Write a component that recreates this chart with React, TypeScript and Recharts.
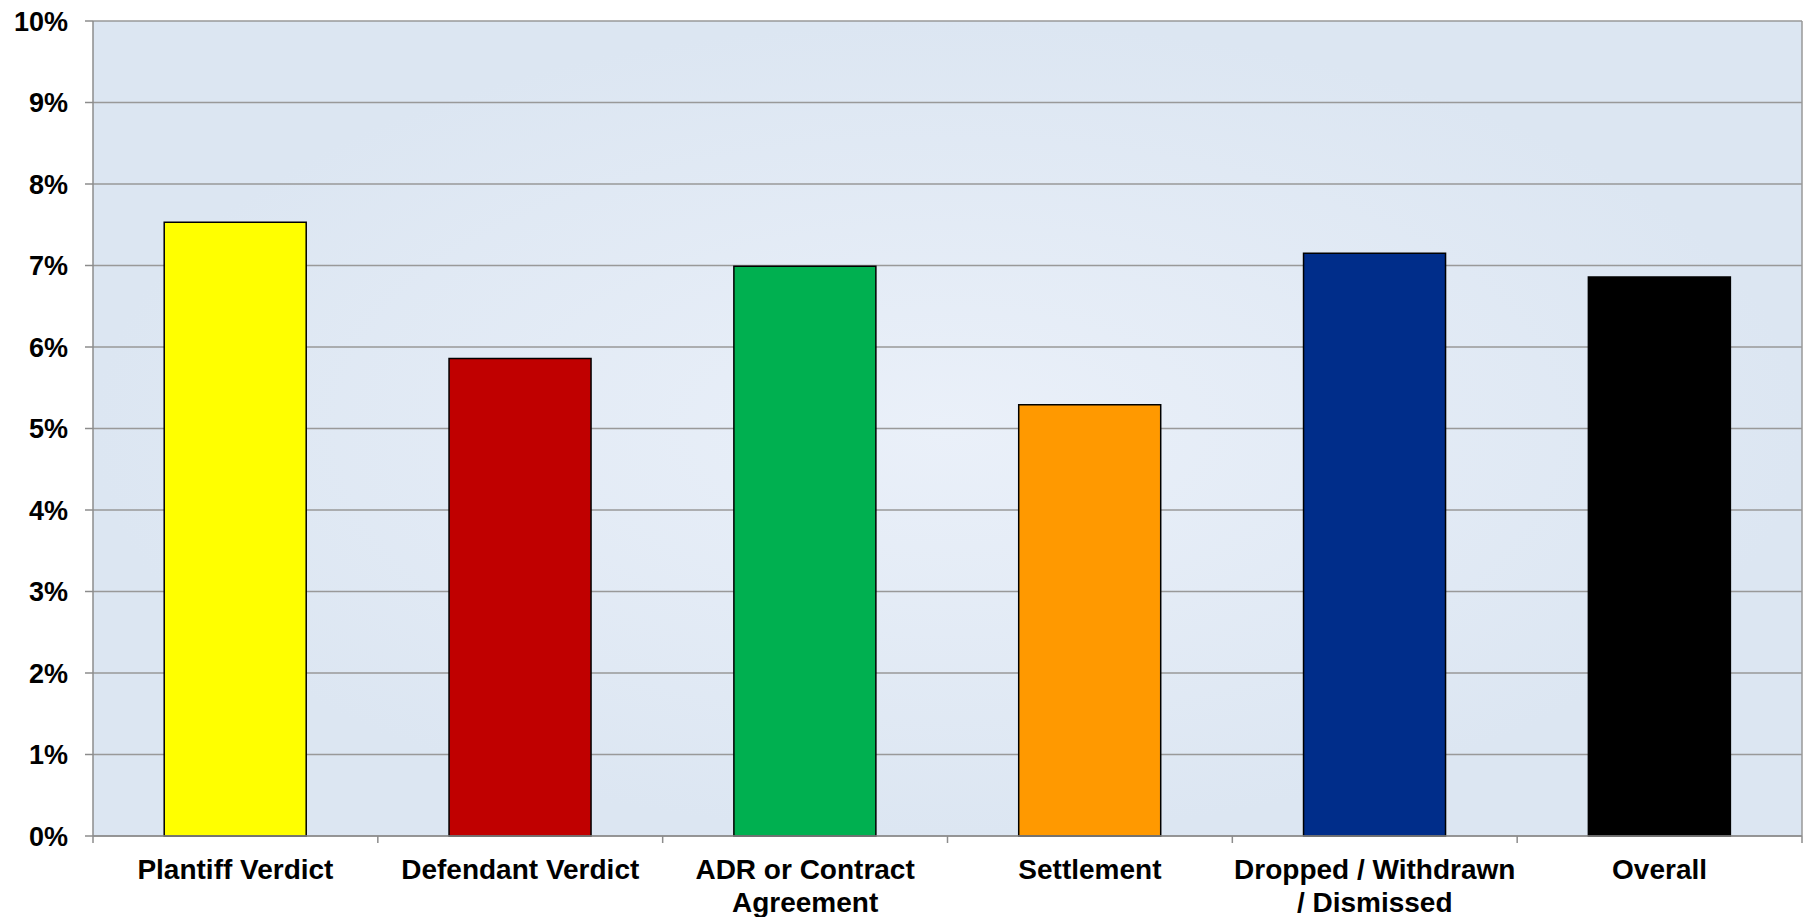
import React from 'react';
import { BarChart, Bar, XAxis, YAxis, CartesianGrid, Cell } from 'recharts';

const categories = [
  'Plantiff Verdict',
  'Defendant Verdict',
  'ADR or Contract\nAgreement',
  'Settlement',
  'Dropped / Withdrawn\n/ Dismissed',
  'Overall',
];
const rates = [7.53, 5.86, 6.99, 5.29, 7.15, 6.86];
const barColors = ['#FFFF00', '#C00000', '#00B050', '#FF9900', '#002D8A', '#000000'];
const yTicks = [0, 1, 2, 3, 4, 5, 6, 7, 8, 9, 10];

const data = categories.map((name, i) => ({ name, rate: rates[i] }));

const FONT = '"Liberation Sans", Arial, sans-serif';
const AXIS_GREY = '#8C8C8C';

// Excel puts the x tick marks between the categories, so draw them here
const CategoryTick = (props: any) => {
  const { x, y, payload, index } = props;
  const half = payload.offset || 0;
  const lines = String(payload.value).split('\n');
  return (
    <g>
      <line x1={x - half} y1={y - 7} x2={x - half} y2={y} stroke={AXIS_GREY} strokeWidth={1.5} />
      {index === categories.length - 1 && (
        <line x1={x + half} y1={y - 7} x2={x + half} y2={y} stroke={AXIS_GREY} strokeWidth={1.5} />
      )}
      <text x={x} y={y + 36} textAnchor="middle" fontFamily={FONT} fontWeight="bold" fontSize={28} fill="#000">
        {lines.map((l, i) => (
          <tspan key={i} x={x} dy={i === 0 ? 0 : 33}>
            {l}
          </tspan>
        ))}
      </text>
    </g>
  );
};

export default function App() {
  return (
    <div style={{ position: 'absolute', left: 0, top: 0, width: 1804, height: 917, background: '#fff' }}>
      <svg width={0} height={0} style={{ position: 'absolute' }}>
        <defs>
          <radialGradient id="plotBg" cx="0.5" cy="0.5" r="0.5">
            <stop offset="0%" stopColor="#EAF0F9" />
            <stop offset="100%" stopColor="#DCE6F2" />
          </radialGradient>
        </defs>
      </svg>
      <BarChart
        width={1804}
        height={917}
        data={data}
        margin={{ top: 21, right: 2, left: 0, bottom: 0 }}
        barCategoryGap="25%"
      >
        <CartesianGrid
          fill="url(#plotBg)"
          stroke="#999999"
          strokeWidth={1.5}
          verticalCoordinatesGenerator={({ offset }: any) => [offset.left + offset.width]}
        />
        <XAxis
          dataKey="name"
          height={81}
          interval={0}
          tickSize={7}
          tickMargin={0}
          tickLine={false}
          axisLine={{ stroke: AXIS_GREY, strokeWidth: 1.5 }}
          tick={<CategoryTick />}
        />
        <YAxis
          width={93}
          domain={[0, 10]}
          ticks={yTicks}
          interval={0}
          tickSize={8}
          tickMargin={17}
          tickFormatter={(v: number) => `${v}%`}
          axisLine={{ stroke: AXIS_GREY, strokeWidth: 1.5 }}
          tickLine={{ stroke: AXIS_GREY, strokeWidth: 1.5 }}
          tick={{ fill: '#000', fontSize: 27, fontWeight: 'bold', fontFamily: FONT }}
        />
        <Bar dataKey="rate" stroke="#000" strokeWidth={1.5} isAnimationActive={false}>
          {data.map((d, i) => (
            <Cell key={d.name} fill={barColors[i]} />
          ))}
        </Bar>
      </BarChart>
    </div>
  );
}
